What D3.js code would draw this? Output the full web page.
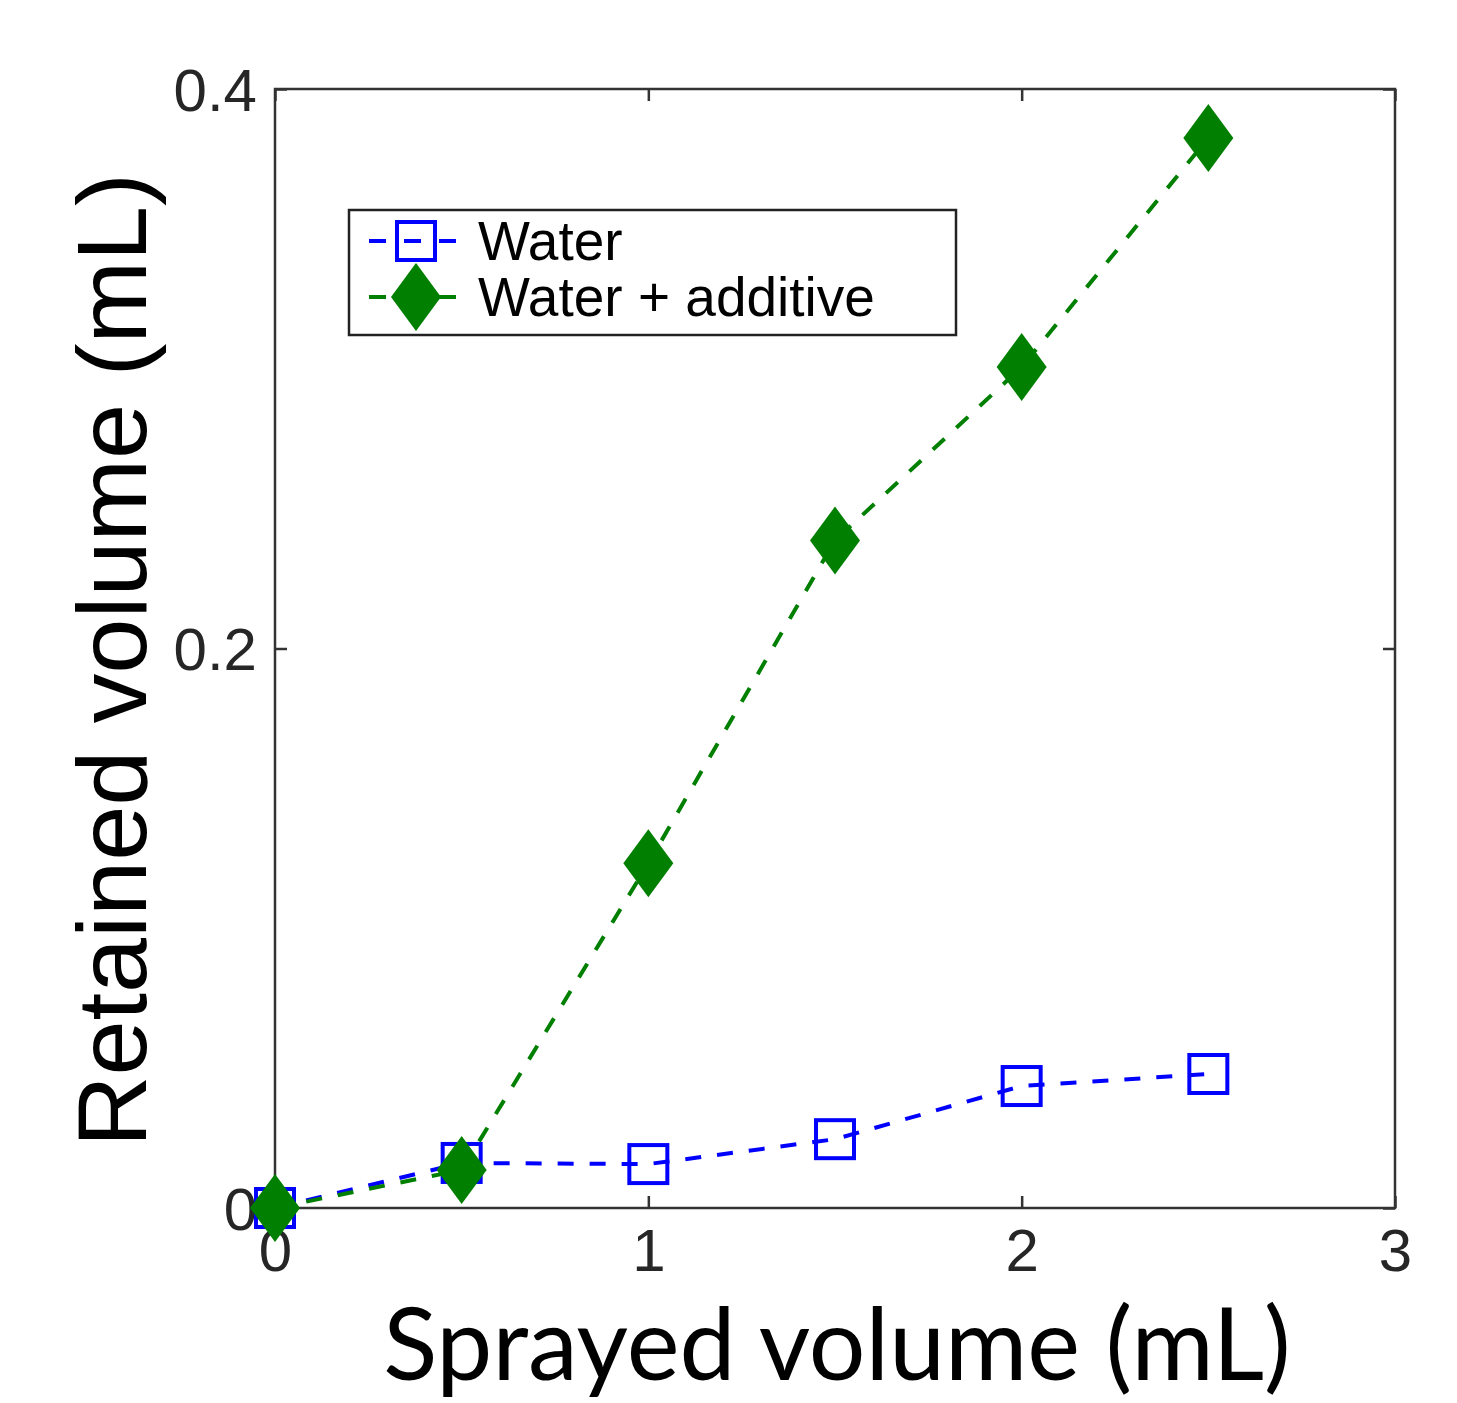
<!DOCTYPE html>
<html><head><meta charset="utf-8">
<script src="https://cdn.jsdelivr.net/npm/d3@7"></script>
<style>html,body{margin:0;padding:0;background:#fff;}svg{display:block;}</style>
</head><body>
<script>
const sprayed = [0, 0.5, 1, 1.5, 2, 2.5];
const water = [0, 0.0161, 0.0157, 0.0246, 0.0436, 0.0479];
const waterAdditive = [0, 0.0136, 0.1232, 0.2386, 0.3006, 0.3825];
const xTicks = [0, 1, 2, 3];
const yTicks = [0, 0.2, 0.4];
const yTickLabels = ["0", "0.2", "0.4"];
const seriesNames = ["Water", "Water + additive"];

const W = 1457, H = 1403;
const svg = d3.select("body").append("svg").attr("width", W).attr("height", H);
const x = d3.scaleLinear().domain([0, 3]).range([275, 1395]);
const y = d3.scaleLinear().domain([0, 0.4]).range([1208, 89]);

const axisColor = "#333";
const tickFont = "'Liberation Sans', Arial, Helvetica, sans-serif";

// Axes frame
svg.append("rect").attr("x", x(0)).attr("y", y(0.4)).attr("width", x(3) - x(0)).attr("height", y(0) - y(0.4))
  .attr("fill", "none").attr("stroke", axisColor).attr("stroke-width", 2.5);

const tl = 12;
const gB = svg.append("g").attr("transform", `translate(0,${y(0)})`)
  .call(d3.axisBottom(x).tickValues(xTicks).tickSize(-tl).tickPadding(20).tickFormat(d3.format("d")));
const gT = svg.append("g").attr("transform", `translate(0,${y(0.4)})`)
  .call(d3.axisTop(x).tickValues(xTicks).tickSize(-tl).tickFormat(""));
const gL = svg.append("g").attr("transform", `translate(${x(0)},0)`)
  .call(d3.axisLeft(y).tickValues(yTicks).tickSize(-tl).tickPadding(18).tickFormat((d, i) => yTickLabels[i]));
const gR = svg.append("g").attr("transform", `translate(${x(3)},0)`)
  .call(d3.axisRight(y).tickValues(yTicks).tickSize(-tl).tickFormat(""));
[gB, gT, gL, gR].forEach(g => {
  g.select(".domain").remove();
  g.selectAll(".tick line").attr("stroke", axisColor).attr("stroke-width", 2.5);
  g.selectAll(".tick text").attr("fill", "#262626").style("font-family", tickFont).style("font-size", "60px");
});
gB.selectAll(".tick text").attr("dy", "0.71em");
gL.selectAll(".tick text").attr("dy", "0.35em");

// Axis titles
const xt = svg.append("text").attr("x", 837).attr("text-anchor", "middle")
  .style("font-family", "Lato, 'Open Sans', sans-serif").style("font-size", "95px").attr("fill", "#000")
  .text("Sprayed volume (mL)");
{
  const w0 = xt.node().getComputedTextLength();
  let s = 95 * 935 / w0;
  s = Math.max(80, Math.min(100, s));
  xt.style("font-size", s + "px");
  xt.attr("y", Math.min(1383, 1401 - 0.215 * s));
}
svg.append("text").attr("transform", "translate(146,660) rotate(-90)").attr("text-anchor", "middle")
  .style("font-family", tickFont).style("font-size", "99px").attr("fill", "#000")
  .text("Retained volume (mL)");

const blue = "#0000ff", green = "#007f00";
const dash = "16,16";
const line = d3.line().x(d => x(d[0])).y(d => y(d[1]));
const sqS = 38;
const diamond = (cx, cy) => `M${cx},${cy - 34}L${cx + 25},${cy}L${cx},${cy + 34}L${cx - 25},${cy}Z`;

// Water series
const wData = sprayed.map((s, i) => [s, water[i]]);
svg.append("path").attr("d", line(wData)).attr("fill", "none").attr("stroke", blue)
  .attr("stroke-width", 4).attr("stroke-dasharray", dash);
svg.selectAll("rect.wm").data(wData).enter().append("rect").attr("class", "wm")
  .attr("x", d => x(d[0]) - sqS / 2).attr("y", d => y(d[1]) - sqS / 2)
  .attr("width", sqS).attr("height", sqS).attr("fill", "none").attr("stroke", blue).attr("stroke-width", 4);

// Additive series
const aData = sprayed.map((s, i) => [s, waterAdditive[i]]);
svg.append("path").attr("d", line(aData)).attr("fill", "none").attr("stroke", green)
  .attr("stroke-width", 4).attr("stroke-dasharray", dash);
svg.selectAll("path.am").data(aData).enter().append("path").attr("class", "am")
  .attr("d", d => diamond(x(d[0]), y(d[1]))).attr("fill", green);

// Legend
const lg = svg.append("g");
lg.append("rect").attr("x", 349).attr("y", 210).attr("width", 607).attr("height", 125)
  .attr("fill", "#fff").attr("stroke", "#222").attr("stroke-width", 2.5);
const legY = [241, 297];
lg.append("line").attr("x1", 369).attr("x2", 457).attr("y1", legY[0]).attr("y2", legY[0])
  .attr("stroke", blue).attr("stroke-width", 4).attr("stroke-dasharray", "17,18");
lg.append("rect").attr("x", 416 - sqS / 2).attr("y", legY[0] - sqS / 2).attr("width", sqS).attr("height", sqS)
  .attr("fill", "none").attr("stroke", blue).attr("stroke-width", 4);
lg.append("line").attr("x1", 369).attr("x2", 457).attr("y1", legY[1]).attr("y2", legY[1])
  .attr("stroke", green).attr("stroke-width", 4).attr("stroke-dasharray", "17,18");
lg.append("path").attr("d", diamond(416, legY[1])).attr("fill", green);
lg.selectAll("text.lt").data(seriesNames).enter().append("text").attr("class", "lt")
  .attr("x", 478).attr("y", (d, i) => legY[i] + 19)
  .style("font-family", tickFont).style("font-size", "55px").attr("fill", "#000").text(d => d);
</script>
</body></html>
